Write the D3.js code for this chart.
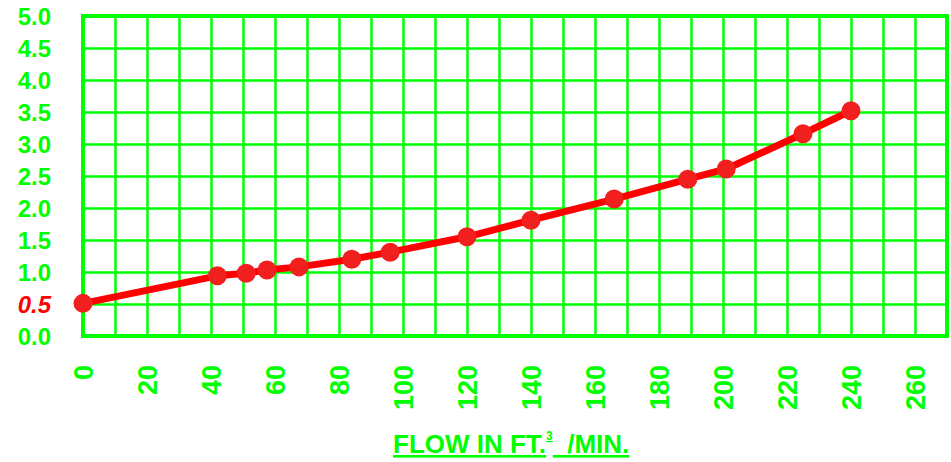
<!DOCTYPE html>
<html>
<head>
<meta charset="utf-8">
<script src="https://cdn.jsdelivr.net/npm/d3@7"></script>
<style>
  body { margin: 0; background: #fff; }
  text { font-family: "Liberation Sans", Arial, sans-serif; font-weight: bold; }
</style>
</head>
<body>
<div id="area"></div>
<script>
// flow (ft3/min) and reading
const flow = [0, 42, 51, 57.5, 67.5, 84, 96, 120, 140, 166, 189, 201, 225, 240];
const reading = [0.51, 0.94, 0.98, 1.03, 1.08, 1.2, 1.31, 1.55, 1.81, 2.14, 2.45, 2.61, 3.16, 3.52];
const xTicks = [0, 20, 40, 60, 80, 100, 120, 140, 160, 180, 200, 220, 240, 260];
const yTicks = [0, 0.5, 1, 1.5, 2, 2.5, 3, 3.5, 4, 4.5, 5];

const width = 951;
const height = 462;
const margin = { top: 16, right: 4, bottom: 126, left: 83 };
const green = "#00ff00";
const red = "#ff0000";

const x = d3.scaleLinear().domain([0, 270]).range([margin.left, width - margin.right]);
const y = d3.scaleLinear().domain([0, 5]).range([height - margin.bottom, margin.top]);

const svg = d3.select("#area").append("svg")
  .attr("width", width)
  .attr("height", height);

// grid
const gx = svg.append("g")
  .attr("transform", `translate(0, ${y(0)})`)
  .call(d3.axisBottom(x).tickValues(d3.range(0, 271, 10)).tickSize(-(y(0) - y(5))).tickFormat(""));
const gy = svg.append("g")
  .attr("transform", `translate(${x(0)}, 0)`)
  .call(d3.axisLeft(y).tickValues(yTicks).tickSize(-(x(270) - x(0))).tickFormat(""));
[gx, gy].forEach((g) => {
  g.select(".domain").remove();
  g.selectAll("line").attr("stroke", green).attr("stroke-width", 2.5);
});

// frame
svg.append("rect")
  .attr("x", x(0)).attr("y", y(5))
  .attr("width", x(270) - x(0)).attr("height", y(0) - y(5))
  .attr("fill", "none").attr("stroke", green).attr("stroke-width", 4);

// y labels
svg.append("g").selectAll("text")
  .data(yTicks)
  .join("text")
  .attr("x", 51)
  .attr("y", (d) => y(d))
  .attr("dy", "0.36em")
  .attr("text-anchor", "end")
  .attr("font-size", 24)
  .attr("fill", (d) => (d === 0.5 ? red : green))
  .attr("font-style", (d) => (d === 0.5 ? "italic" : "normal"))
  .text((d) => d.toFixed(1));

// x labels (rotated)
svg.append("g").selectAll("text")
  .data(xTicks)
  .join("text")
  .attr("transform", (d) => `translate(${x(d) + 10}, 365) rotate(-90)`)
  .attr("text-anchor", "end")
  .attr("font-size", 27)
  .attr("fill", green)
  .text((d) => d);

// axis title
const title = svg.append("text")
  .attr("x", 393)
  .attr("y", 453)
  .attr("font-size", 26)
  .attr("fill", green)
  .attr("text-decoration", "underline");
title.append("tspan").text("FLOW IN FT.");
title.append("tspan").attr("font-size", 12).attr("dy", -13).text("3");
title.append("tspan").attr("dy", 13).attr("xml:space", "preserve").text("  /MIN.");

// line + markers
const pts = flow.map((f, i) => ({ flow: f, reading: reading[i] }));
const line = d3.line().x((d) => x(d.flow)).y((d) => y(d.reading));

svg.append("path")
  .attr("fill", "none")
  .attr("stroke", red)
  .attr("stroke-width", 7)
  .attr("stroke-linejoin", "round")
  .attr("d", line(pts));

svg.append("g").selectAll("circle")
  .data(pts)
  .join("circle")
  .attr("cx", (d) => x(d.flow))
  .attr("cy", (d) => y(d.reading))
  .attr("r", 9.5)
  .attr("fill", "#f21f1f");
</script>
</body>
</html>
